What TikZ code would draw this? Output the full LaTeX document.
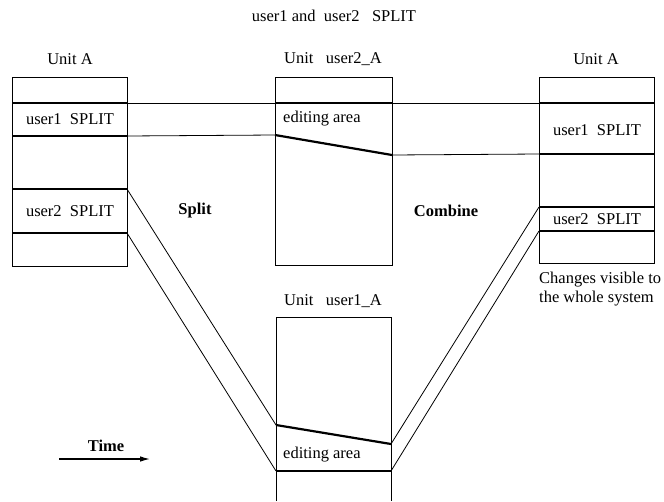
\documentclass[tikz,border=0pt]{standalone}
\usepackage{fontspec}
\setmainfont{Liberation Serif}
\usetikzlibrary{arrows.meta}
\begin{document}
\begin{tikzpicture}[x=1pt,y=-1pt,
  lbl/.style={font=\fontsize{16.5}{19}\selectfont, inner sep=0pt},
  bld/.style={font=\fontsize{16.5}{19}\selectfont\bfseries, inner sep=0pt},
  outline/.style={line width=0.9pt},
  divider/.style={line width=1.6pt},
  thin/.style={line width=0.8pt},
  slant/.style={line width=2.2pt}]
\useasboundingbox (0,0) rectangle (664,501);
% ---- boxes ----
\node[draw, outline, minimum width=115pt, minimum height=189pt, inner sep=0pt] (LA) at (69.5,171.5) {};
\node[draw, outline, minimum width=117pt, minimum height=188pt, inner sep=0pt] (MB) at (333.5,171) {};
\node[draw, outline, minimum width=115pt, minimum height=186pt, inner sep=0pt] (RA) at (596.5,170) {};
% lower box (open at bottom)
\coordinate (LBtl) at (276,317);
\coordinate (LBtr) at (391,317);
\coordinate (LBbl) at (276,501);
\coordinate (LBbr) at (391,501);
\draw[outline] (LBbl) -- (LBtl) -- (LBtr) -- (LBbr);
% ---- key points ----
\coordinate (La1) at (12,103);  \coordinate (Lb1) at (127,103);
\coordinate (La2) at (12,136);  \coordinate (Lb2) at (127,136);
\coordinate (La3) at (12,189);  \coordinate (Lb3) at (127,189);
\coordinate (La4) at (12,233);  \coordinate (Lb4) at (127,233);
\coordinate (Ma1) at (275,103); \coordinate (Mb1) at (392,103);
\coordinate (Ma2) at (275,135); \coordinate (Mb2) at (392,155);
\coordinate (Ra1) at (539,103); \coordinate (Rb1) at (654,103);
\coordinate (Ra2) at (539,154); \coordinate (Rb2) at (654,154);
\coordinate (Ra3) at (539,207); \coordinate (Rb3) at (654,207);
\coordinate (Ra4) at (539,231); \coordinate (Rb4) at (654,231);
\coordinate (Da) at (276,425);  \coordinate (Db) at (391,444);
\coordinate (Ea) at (276,471);  \coordinate (Eb) at (391,471);
% dividers
\draw[divider] (La1) -- (Lb1);
\draw[divider] (La2) -- (Lb2);
\draw[divider] (La3) -- (Lb3);
\draw[divider] (La4) -- (Lb4);
\draw[divider] (Ma1) -- (Mb1);
\draw[divider] (Ra1) -- (Rb1);
\draw[divider] (Ra2) -- (Rb2);
\draw[divider] (Ra3) -- (Rb3);
\draw[divider] (Ra4) -- (Rb4);
\draw[slant] (Ma2) -- (Mb2);
\draw[slant] (Da) -- (Db);
\draw[divider] (Ea) -- (Eb);
% connectors
\draw[thin] (Lb1) -- (Ma1);
\draw[thin] (Mb1) -- (Ra1);
\draw[thin] (Lb2) -- (Ma2);
\draw[thin] (Mb2) -- (Ra2);
\draw[thin] (Lb3) -- (Da);
\draw[thin] (Lb4) -- (Ea);
\draw[thin] (Db) -- (Ra3);
\draw[thin] (Eb) -- (Ra4);
% ---- texts ----
\node[lbl] (title) at (334,16) {user1 and\ \ user2\ \ \ SPLIT};
\node[lbl] (tLA) at (70,59) {Unit A};
\node[lbl] (tMB) at (333,59) {Unit\ \ \ user2\_A};
\node[lbl] (tRA) at (596,59) {Unit A};
\node[lbl] (tLB) at (333,301) {Unit\ \ \ user1\_A};
\node[lbl] (u1L) at (70,119) {user1\ \ SPLIT};
\node[lbl] (u2L) at (70,211) {user2\ \ SPLIT};
\node[lbl, anchor=west] (edM) at (283,119) {editing area};
\node[lbl, anchor=west] (edL) at (283,455) {editing area};
\node[lbl] (u1R) at (597,130) {user1\ \ SPLIT};
\node[lbl] (u2R) at (597,219) {user2\ \ SPLIT};
\node[bld] (split) at (195,211) {Split};
\node[bld] (comb) at (446,211) {Combine};
\node[lbl, anchor=west, align=left] (chg) at (539,289) {Changes visible to\\the whole system};
\node[bld] (time) at (106,446) {Time};
\coordinate (t0) at (59,459);
\coordinate (t1) at (150,459);
\draw[line width=1.1pt, -{Latex[length=10pt,width=5.5pt]}] (t0) -- (t1);
\end{tikzpicture}
\end{document}
